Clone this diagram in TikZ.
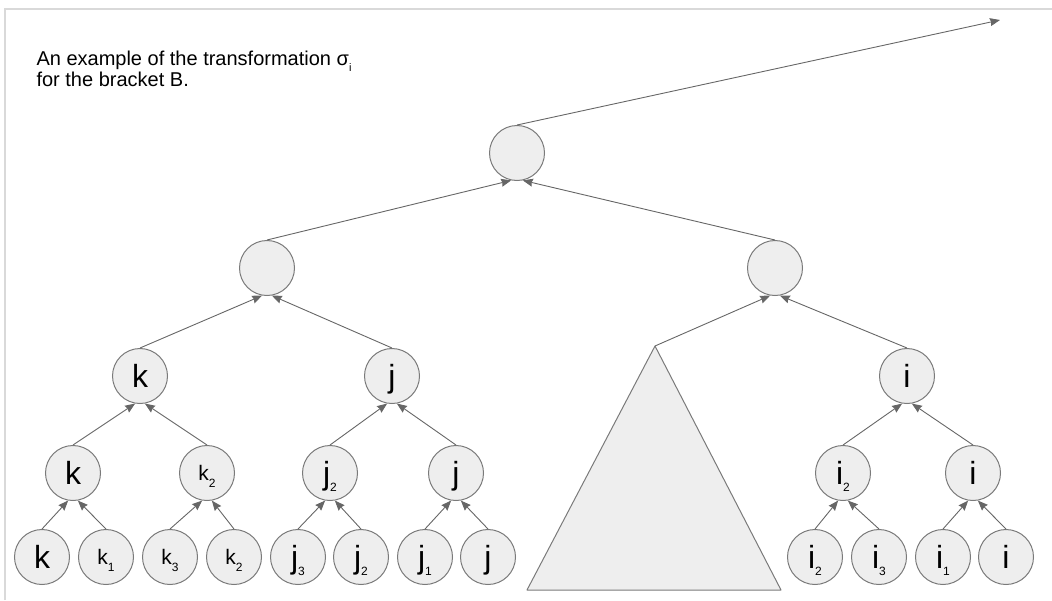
\documentclass[tikz,border=0pt]{standalone}
\usepackage{fontspec}
\setmainfont{Liberation Sans}
\usetikzlibrary{arrows.meta}

\definecolor{nodefill}{HTML}{EEEEEE}
\definecolor{nodeline}{HTML}{7A7A7A}
\definecolor{linkcol}{HTML}{666666}
\definecolor{framecol}{HTML}{D9D9D9}

\newcommand{\lowidx}[1]{\raisebox{-7pt}{\fontsize{12}{12}\selectfont #1}}

\tikzset{
  biglabel/.style={font=\fontsize{32}{32}\selectfont},
  smalllabel/.style={font=\fontsize{21}{21}\selectfont},
}

\begin{document}
\begin{tikzpicture}[x=1pt,y=-1pt]

      \useasboundingbox (0,0) rectangle (1052,600);
      \draw[framecol,line width=2pt] (5,600) -- (5,9) -- (1052,9);

      \node[anchor=north west,align=left,font=\fontsize{20}{21}\selectfont] (txt) at (33,47)
        {An example of the transformation σ\raisebox{-6pt}{\fontsize{11}{11}\selectfont i}\\for the bracket B.};

      \begin{scope}[every node/.style={circle,draw=nodeline,fill=nodefill,line width=1pt,
          minimum size=55pt,inner sep=0pt,text depth=0pt}]
        \node (1)  at (517,153) {};
        \node (2)  at (267,268) {};
        \node (3)  at (775,268) {};
        \node[biglabel] (4)  at (140,376) {k};
        \node[biglabel] (5)  at (392,376) {j};
        \node[biglabel] (6)  at (907,376) {i};
        \node[biglabel] (7)  at (73,473)  {k};
        \node[smalllabel] (8)  at (207,473) {k\lowidx{2}};
        \node[biglabel] (9)  at (330,473) {j\lowidx{2}};
        \node[biglabel] (10) at (456,473) {j};
        \node[biglabel] (11) at (843,473) {i\lowidx{2}};
        \node[biglabel] (12) at (973,473) {i};
        \node[biglabel] (13) at (42,557)  {k};
        \node[smalllabel] (14) at (106,557) {k\lowidx{1}};
        \node[smalllabel] (15) at (170,557) {k\lowidx{3}};
        \node[smalllabel] (16) at (234,557) {k\lowidx{2}};
        \node[biglabel] (17) at (298,557) {j\lowidx{3}};
        \node[biglabel] (18) at (361,557) {j\lowidx{2}};
        \node[biglabel] (19) at (425,557) {j\lowidx{1}};
        \node[biglabel] (20) at (488,557) {j};
        \node[biglabel] (21) at (815,557) {i\lowidx{2}};
        \node[biglabel] (22) at (879,557) {i\lowidx{3}};
        \node[biglabel] (23) at (943,557) {i\lowidx{1}};
        \node[biglabel] (24) at (1006,557) {i};
      \end{scope}

      % the subtree drawn as a triangle
      \coordinate (top) at (655,346);
      \draw[nodeline,fill=nodefill,line width=1pt,line join=round]
        (top) -- (781,590) -- (527,590) -- cycle;
      \coordinate (out) at (1000,20);

      \begin{scope}[every edge/.style={draw=linkcol,line width=0.9pt,
          -{Stealth[length=10pt,width=8pt,inset=1pt]}}]
        \path (1.north) edge (out);
        \path (2.north) edge (1.-102);
        \path (3.north) edge (1.-78);
        \path (4.north) edge (2.-100);
        \path (5.north) edge (2.-80);
        \path (top)     edge (3.-100);
        \path (6.north) edge (3.-80);
        \path (7.north) edge (4.-100);
        \path (8.north) edge (4.-80);
        \path (9.north) edge (5.-100);
        \path (10.north) edge (5.-80);
        \path (11.north) edge (6.-100);
        \path (12.north) edge (6.-80);
        \path (13.north) edge (7.-100);
        \path (14.north) edge (7.-80);
        \path (15.north) edge (8.-100);
        \path (16.north) edge (8.-80);
        \path (17.north) edge (9.-100);
        \path (18.north) edge (9.-80);
        \path (19.north) edge (10.-100);
        \path (20.north) edge (10.-80);
        \path (21.north) edge (11.-100);
        \path (22.north) edge (11.-80);
        \path (23.north) edge (12.-100);
        \path (24.north) edge (12.-80);
      \end{scope}

    \end{tikzpicture}
\end{document}
